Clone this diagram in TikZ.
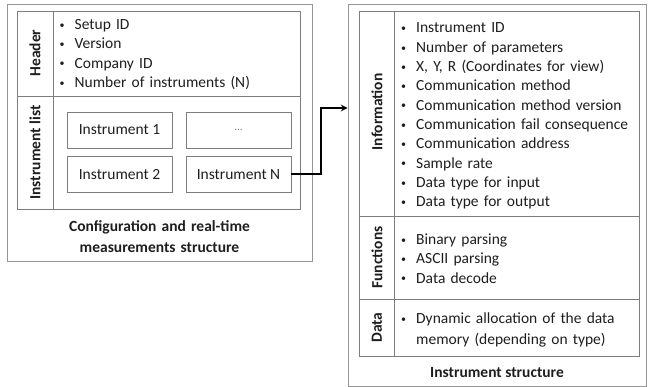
\documentclass[tikz,border=0pt]{standalone}
\usepackage{fontspec}
\setmainfont{Carlito}
\usetikzlibrary{arrows}
\definecolor{framegray}{RGB}{150,150,150}
\definecolor{linegray}{RGB}{125,125,125}
\definecolor{txt}{RGB}{30,30,30}
\tikzstyle{outer} = [rectangle, draw=framegray, line width=0.8pt, inner sep=0pt]
\tikzstyle{grid} = [draw=linegray, line width=0.8pt]
\tikzstyle{instr} = [rectangle, draw=linegray, line width=0.8pt, minimum width=105pt, minimum height=36pt, inner sep=0pt, text=txt, font=\fontsize{15.5}{19}\selectfont]
\tikzstyle{side} = [rotate=90, inner sep=0pt, text=txt, font=\fontsize{15.5}{19}\selectfont\bfseries]
\tikzstyle{items} = [anchor=base west, inner sep=0pt, text width=240pt, align=left, text=txt, font=\fontsize{15.5}{19.3}\selectfont]
\tikzstyle{caption} = [anchor=base, inner sep=0pt, align=center, text=txt, font=\fontsize{15.5}{21.5}\selectfont\bfseries]
\tikzstyle{arrow} = [line width=2pt, ->, >=stealth]
\newcommand{\bul}{\makebox[15pt][l]{\raisebox{1.2pt}{\fontsize{10}{10}\selectfont\textbullet}}}

\begin{document}
\begin{tikzpicture}[x=1pt, y=-1pt]
\useasboundingbox (0,0) rectangle (648,387);

% configuration structure
\node (cfg) [outer, minimum width=305pt, minimum height=257pt] at (159.5,132.5) {};
\draw [grid] (17,11) rectangle (300,209);
\draw [grid] (17,96) -- (300,96);
\draw [grid] (53,11) -- (53,209);
\node (hdr) [side] at (35,53) {Header};
\node (lst) [side] at (35,152.5) {Instrument list};
\node (hdritems) [items] at (59.5,29.5) {
	\bul Setup ID\\
	\bul Version\\
	\bul Company ID\\
	\bul Number of instruments (N)
};
\node (ins1) [instr] at (119.5,130) {Instrument 1};
\node (insd) [instr] at (238.5,130) {\textcolor{linegray}{\fontsize{11}{11}\selectfont...}};
\node (ins2) [instr] at (119.5,174.5) {Instrument 2};
\node (insN) [instr] at (238.5,174.5) {Instrument N};
\node (cfgcap) [caption, text width=250pt] at (159.5,231.5) {Configuration and real-time\\ measurements structure};

% instrument structure
\node (inst) [outer, minimum width=298pt, minimum height=382pt] at (497,195) {};
\draw [grid] (359,11) rectangle (639,356);
\draw [grid] (359,216) -- (639,216);
\draw [grid] (359,299) -- (639,299);
\draw [grid] (394,11) -- (394,356);
\node (inf) [side] at (377,112) {Information};
\node (fun) [side] at (377,257.5) {Functions};
\node (dat) [side] at (377,327.5) {Data};
\node (infitems) [items] at (401,33) {
	\bul Instrument ID\\
	\bul Number of parameters\\
	\bul X, Y, R (Coordinates for view)\\
	\bul Communication method\\
	\bul Communication method version\\
	\bul Communication fail consequence\\
	\bul Communication address\\
	\bul Sample rate\\
	\bul Data type for input\\
	\bul Data type for output
};
\node (funitems) [items] at (401,244.5) {
	\bul Binary parsing\\
	\bul ASCII parsing\\
	\bul Data decode
};
\node (datitems) [items, font=\fontsize{15.5}{21}\selectfont] at (401,323.5) {
	\bul Dynamic allocation of the data\\
	\hspace*{15pt}memory (depending on type)
};
\node (instcap) [caption] at (497,377.5) {Instrument structure};

\coordinate (bend) at (321,0);
\coordinate (entry) at (inst.west |- 0,108);
\draw [arrow] (insN.east) -| (bend |- entry) -- (entry);

\end{tikzpicture}
\end{document}
